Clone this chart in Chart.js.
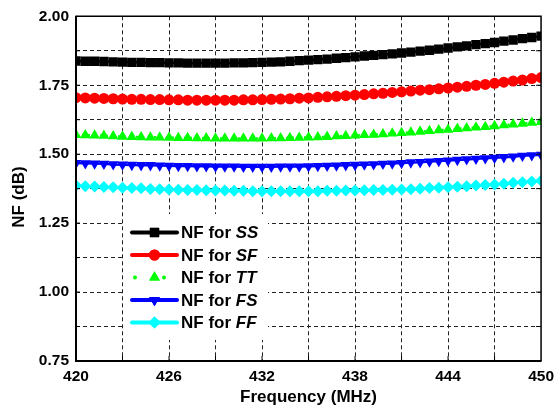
<!DOCTYPE html>
<html>
<head>
<meta charset="utf-8">
<script src="https://cdn.jsdelivr.net/npm/chart.js@4/dist/chart.umd.min.js"></script>
<style>
html,body{margin:0;padding:0;background:#fff;}
#wrap{position:relative;width:560px;height:409px;}
</style>
</head>
<body>
<div id="wrap"><canvas id="c" width="560" height="409"></canvas></div>
<script>
// ---- data ----
const freq = [420.0,420.6,421.2,421.8,422.4,423.0,423.6,424.2,424.8,425.4,
  426.0,426.6,427.2,427.8,428.4,429.0,429.6,430.2,430.8,431.4,
  432.0,432.6,433.2,433.8,434.4,435.0,435.6,436.2,436.8,437.4,
  438.0,438.6,439.2,439.8,440.4,441.0,441.6,442.2,442.8,443.4,
  444.0,444.6,445.2,445.8,446.4,447.0,447.6,448.2,448.8,449.4,450.0];
const nfSS = [1.838,1.837,1.837,1.836,1.835,1.834,1.833,1.833,1.832,1.832,
  1.831,1.831,1.830,1.830,1.830,1.830,1.830,1.831,1.831,1.832,
  1.833,1.834,1.835,1.837,1.839,1.841,1.843,1.845,1.848,1.850,
  1.853,1.856,1.858,1.861,1.864,1.867,1.870,1.874,1.877,1.881,
  1.885,1.889,1.893,1.897,1.901,1.905,1.910,1.914,1.919,1.923,1.928];
const nfSF = [1.705,1.704,1.703,1.702,1.701,1.700,1.699,1.699,1.698,1.698,
  1.697,1.697,1.696,1.696,1.696,1.696,1.696,1.696,1.697,1.697,
  1.698,1.699,1.700,1.701,1.703,1.704,1.706,1.708,1.710,1.712,
  1.714,1.716,1.719,1.721,1.724,1.726,1.729,1.732,1.734,1.737,
  1.740,1.743,1.746,1.750,1.753,1.757,1.761,1.765,1.769,1.774,1.778];
const nfTT = [1.570,1.569,1.568,1.567,1.565,1.564,1.563,1.562,1.561,1.561,
  1.560,1.559,1.559,1.558,1.558,1.557,1.557,1.557,1.557,1.557,
  1.557,1.558,1.558,1.559,1.560,1.561,1.562,1.563,1.565,1.566,
  1.568,1.570,1.571,1.573,1.575,1.577,1.579,1.582,1.584,1.587,
  1.589,1.592,1.594,1.597,1.599,1.602,1.605,1.608,1.611,1.614,1.617];
const nfFS = [1.468,1.467,1.466,1.465,1.463,1.462,1.461,1.460,1.460,1.459,
  1.458,1.457,1.457,1.456,1.456,1.455,1.455,1.455,1.454,1.454,
  1.454,1.454,1.455,1.455,1.455,1.456,1.457,1.458,1.459,1.460,
  1.461,1.462,1.463,1.465,1.466,1.468,1.470,1.471,1.473,1.475,
  1.477,1.479,1.481,1.483,1.485,1.487,1.489,1.491,1.494,1.496,1.498];
const nfFF = [1.386,1.384,1.383,1.381,1.380,1.378,1.377,1.376,1.374,1.373,
  1.372,1.371,1.370,1.370,1.369,1.368,1.368,1.367,1.367,1.366,
  1.366,1.366,1.366,1.366,1.366,1.366,1.366,1.367,1.367,1.368,
  1.368,1.369,1.370,1.370,1.371,1.372,1.373,1.375,1.377,1.378,
  1.380,1.382,1.384,1.386,1.388,1.390,1.393,1.396,1.398,1.401,1.404];
const seriesNames = ['SS','SF','TT','FS','FF'];
const xTickLabels = [420,426,432,438,444,450];
const yTickLabels = [0.75,1.00,1.25,1.50,1.75,2.00];

const FONT = "'Liberation Sans', Arial, sans-serif";

function mk(vals, name, color, style, radius, rot, dash){
  return {
    label: name,
    data: freq.map((f,i)=>({x:f,y:vals[i]})),
    borderColor: color, backgroundColor: color,
    pointBackgroundColor: color, pointBorderColor: color,
    pointStyle: style, pointRadius: radius, pointRotation: rot,
    pointBorderWidth: 0, borderWidth: 2.5, borderDash: dash || [],
    tension: 0
  };
}

const legendPlugin = {
  id: 'nfLegend',
  afterDatasetsDraw(chart){
    const ctx = chart.ctx;
    ctx.save();
    ctx.fillStyle = '#fff';
    ctx.fillRect(124, 214, 144, 126);
    const rows = [232.5, 255, 277.5, 300, 322.5];
    chart.data.datasets.forEach((ds, i) => {
      const y = rows[i];
      const x0 = 132, x1 = 177, xm = 154.5;
      ctx.strokeStyle = ds.borderColor;
      ctx.fillStyle = ds.borderColor;
      if (ds.label === 'TT') {
        ctx.beginPath(); ctx.arc(135, y, 2, 0, Math.PI*2); ctx.fill();
        ctx.beginPath(); ctx.arc(164, y, 2, 0, Math.PI*2); ctx.fill();
      } else {
        ctx.lineWidth = 4;
        ctx.lineCap = 'round';
        ctx.beginPath(); ctx.moveTo(x0, y); ctx.lineTo(x1, y); ctx.stroke();
      }
      Chart.helpers.drawPoint(ctx, {pointStyle: ds.pointStyle, rotation: ds.pointRotation,
        radius: ds.pointRadius, borderWidth: 0}, xm, y);
      ctx.fill();
      ctx.fillStyle = '#000';
      ctx.textBaseline = 'middle';
      ctx.textAlign = 'left';
      ctx.font = "bold 17px " + FONT;
      const pre = 'NF for ';
      ctx.fillText(pre, 181, y + 1);
      const w = ctx.measureText(pre).width;
      ctx.font = "italic bold 17px " + FONT;
      ctx.fillText(ds.label, 181 + w, y + 1);
    });
    ctx.restore();
  },
  afterDraw(chart){
    const ctx = chart.ctx, a = chart.chartArea;
    const xs = chart.scales.x, ys = chart.scales.y;
    ctx.save();
    ctx.strokeStyle = '#000';
    ctx.lineWidth = 1;
    // inward ticks
    for (let v = 423; v < 450; v += 3) {
      const px = xs.getPixelForValue(v);
      ctx.beginPath(); ctx.moveTo(px, a.bottom); ctx.lineTo(px, a.bottom - 5); ctx.stroke();
    }
    for (let k = 1; k < 10; k++) {
      const py = ys.getPixelForValue(0.75 + k * 0.125);
      ctx.beginPath(); ctx.moveTo(a.right, py); ctx.lineTo(a.right - 5, py); ctx.stroke();
      ctx.beginPath(); ctx.moveTo(a.left, py); ctx.lineTo(a.left + 4, py); ctx.stroke();
    }
    // frame
    ctx.lineWidth = 1.5;
    ctx.beginPath(); ctx.moveTo(a.left, a.top); ctx.lineTo(a.right, a.top); ctx.lineTo(a.right, a.bottom); ctx.stroke();
    ctx.lineWidth = 2;
    ctx.beginPath(); ctx.moveTo(a.left, a.top - 0.5); ctx.lineTo(a.left, a.bottom); ctx.lineTo(a.right + 0.5, a.bottom); ctx.stroke();
    // y axis title
    ctx.fillStyle = '#000';
    ctx.font = "bold 17px " + FONT;
    ctx.textAlign = 'center';
    ctx.textBaseline = 'middle';
    ctx.translate(19, 197);
    ctx.rotate(-Math.PI / 2);
    ctx.fillText('NF (dB)', 0, 0);
    ctx.restore();
  }
};

new Chart(document.getElementById('c'), {
  type: 'line',
  data: {
    datasets: [
      mk(nfSS, 'SS', '#000000', 'rect', 6.6, 0),
      mk(nfSF, 'SF', '#ff0000', 'circle', 5.5, 0),
      mk(nfTT, 'TT', '#00ff00', 'triangle', 6.2, 0, [2,4]),
      mk(nfFS, 'FS', '#0000ff', 'triangle', 6.2, 180),
      mk(nfFF, 'FF', '#00ffff', 'rectRot', 6, 0)
    ]
  },
  options: {
    responsive: false,
    animation: false,
    devicePixelRatio: 1,
    layout: {padding: {top: 15, right: 16, left: 0, bottom: 0}},
    plugins: {legend: {display: false}, tooltip: {enabled: false}},
    scales: {
      x: {
        type: 'linear', min: 420, max: 450,
        afterFit(s){ s.height = 48; },
        ticks: {
          stepSize: 3, autoSkip: false, maxRotation: 0, padding: 6,
          color: '#000', font: {family: FONT, size: 15.5, weight: 'bold'},
          callback: v => xTickLabels.includes(v) ? String(v) : ''
        },
        grid: {
          drawTicks: false, lineWidth: 1,
          color: c => (c.tick && (c.tick.value === 420 || c.tick.value === 450)) ? 'rgba(0,0,0,0)' : '#222'
        },
        border: {display: false, dash: [4,3]},
        title: {display: true, text: 'Frequency (MHz)', color: '#000',
          font: {family: FONT, size: 17, weight: 'bold'}, padding: {top: 0, bottom: 1}}
      },
      y: {
        type: 'linear', min: 0.75, max: 2.0,
        afterFit(s){ s.width = 76; },
        ticks: {
          stepSize: 0.125, autoSkip: false, padding: 7,
          color: '#000', font: {family: FONT, size: 15.5, weight: 'bold'},
          callback: v => yTickLabels.some(t => Math.abs(t - v) < 1e-9) ? v.toFixed(2) : ''
        },
        grid: {
          drawTicks: false, lineWidth: 1,
          color: c => (c.tick && (Math.abs(c.tick.value - 0.75) < 1e-9 || Math.abs(c.tick.value - 2) < 1e-9)) ? 'rgba(0,0,0,0)' : '#222'
        },
        border: {display: false, dash: [4,3]},
        title: {display: false}
      }
    }
  },
  plugins: [legendPlugin]
});
</script>
</body>
</html>
